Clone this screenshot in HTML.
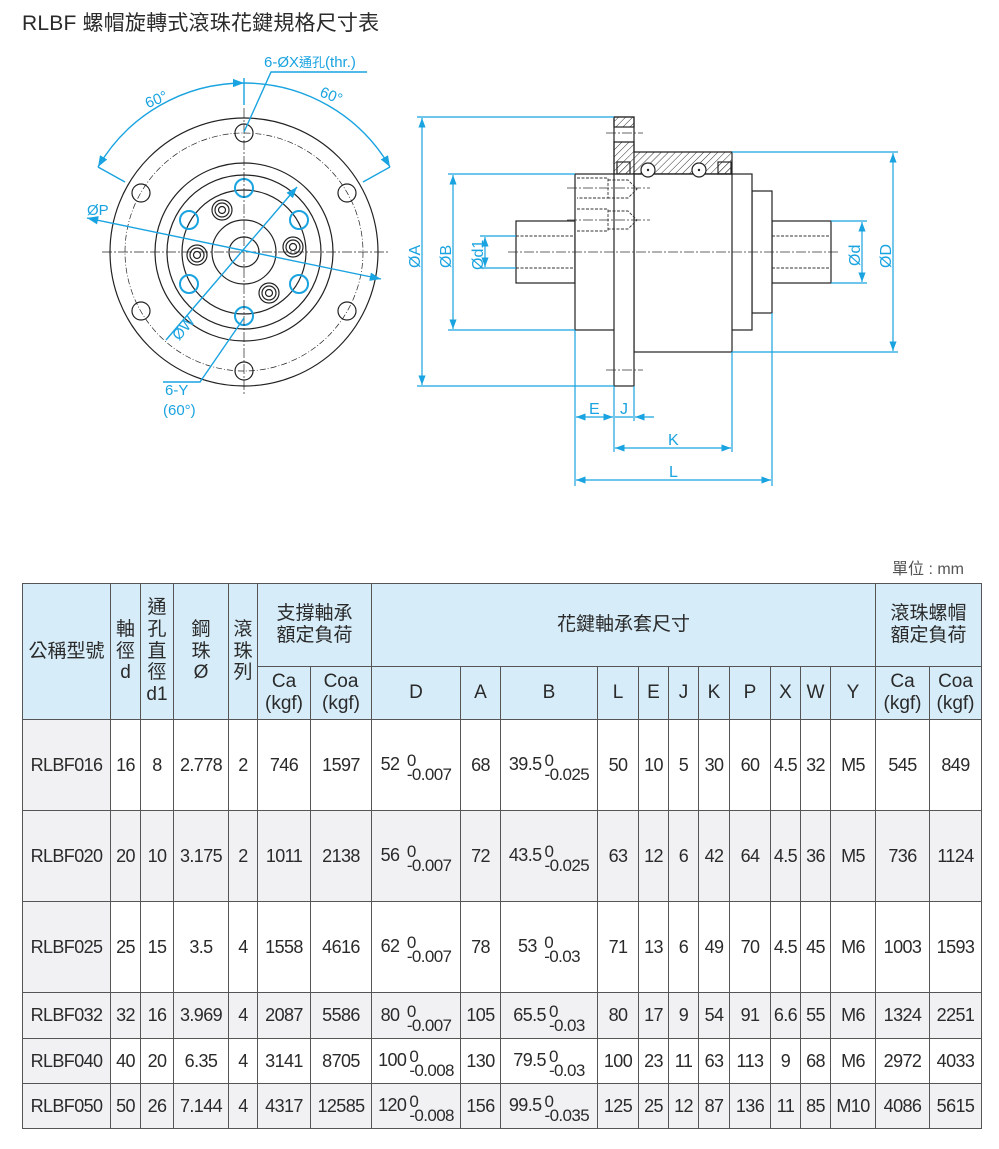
<!DOCTYPE html>
<html><head><meta charset="utf-8">
<style>
body{margin:0;width:999px;height:1149px;background:#fff;position:relative;overflow:hidden;font-family:"Liberation Sans","Noto Sans CJK TC",sans-serif;color:#2a2a2a}
.title{position:absolute;left:22px;top:7px;font-size:21px;letter-spacing:0.2px}
.unit{position:absolute;left:892px;top:555px;font-size:16px;color:#555}
svg{position:absolute;left:0;top:0}
table{position:absolute;left:22px;top:583px;border-collapse:collapse;table-layout:fixed;font-size:18px;letter-spacing:-0.6px}
td{border:1.3px solid #555;text-align:center;padding:0;line-height:1.15;white-space:nowrap}
.h td{background:#d6ecf8;font-size:19px;letter-spacing:0}
td.f{background:#f1f1f3}
tr.g td{background:#f1f1f3}
.t{display:inline-block;vertical-align:middle;text-align:left;font-size:17px;line-height:14px;position:relative;top:3px;margin-left:3px}
</style></head><body>
<div class="title">RLBF 螺帽旋轉式滾珠花鍵規格尺寸表</div>
<svg width="999" height="560" viewBox="0 0 999 560">
<defs>
<pattern id="hh" width="5" height="5" patternUnits="userSpaceOnUse" patternTransform="rotate(45)"><line x1="0" y1="0" x2="0" y2="5" stroke="#333" stroke-width="1"/></pattern>
<marker id="a" markerWidth="8" markerHeight="6" refX="8" refY="3" orient="auto-start-reverse"><path d="M0,0 L8,3 L0,6z" fill="#19a3e0"/></marker>
</defs>
<g fill="none" stroke="#222" stroke-width="1.2">
<circle cx="244" cy="252" r="134"/>
<circle cx="244" cy="252" r="119" stroke-dasharray="6,2,1,2" stroke-width="0.7"/>
<circle cx="244" cy="252" r="89"/>
<circle cx="244" cy="252" r="77"/>
<circle cx="244" cy="252" r="62"/>
<circle cx="244" cy="252" r="32"/>
<circle cx="244" cy="252" r="15"/>
<g><circle cx="244" cy="133" r="9"/><circle cx="347" cy="193" r="9"/><circle cx="347" cy="311" r="9"/><circle cx="244" cy="371" r="9"/><circle cx="141" cy="311" r="9"/><circle cx="141" cy="193" r="9"/></g>
<g stroke="#19a3e0" stroke-width="2"><circle cx="244" cy="188" r="9"/><circle cx="299" cy="220" r="9"/><circle cx="299" cy="284" r="9"/><circle cx="244" cy="316" r="9"/><circle cx="189" cy="284" r="9"/><circle cx="189" cy="220" r="9"/></g>
<g><circle cx="222" cy="210" r="10"/><circle cx="222" cy="210" r="7"/><circle cx="222" cy="210" r="3.5"/>
<circle cx="293" cy="247" r="10"/><circle cx="293" cy="247" r="7"/><circle cx="293" cy="247" r="3.5"/>
<circle cx="197" cy="255" r="10"/><circle cx="197" cy="255" r="7"/><circle cx="197" cy="255" r="3.5"/>
<circle cx="269" cy="293" r="10"/><circle cx="269" cy="293" r="7"/><circle cx="269" cy="293" r="3.5"/></g>
<g stroke-width="0.7" stroke-dasharray="10,2,2,2"><line x1="102" y1="252" x2="388" y2="252"/><line x1="244" y1="108" x2="244" y2="395"/></g>
</g>
<g fill="none" stroke="#19a3e0" stroke-width="1.4">
<path d="M98,167 A169,169 0 0 1 244,83" marker-start="url(#a)" marker-end="url(#a)"/>
<path d="M244,83 A169,169 0 0 1 390,167" marker-end="url(#a)"/>
<line x1="98" y1="167" x2="125" y2="182"/><line x1="390" y1="167" x2="363" y2="182"/><line x1="244" y1="78" x2="244" y2="105"/>
<line x1="87" y1="218" x2="381" y2="279" marker-start="url(#a)" marker-end="url(#a)"/>
<line x1="166" y1="340" x2="297" y2="187" marker-end="url(#a)"/>
<polyline points="244,132 271,72 367,72"/>
<polyline points="244,318 200,382 163,382"/>
</g>
<g fill="#19a3e0" font-size="15" font-family="Liberation Sans,Noto Sans CJK TC,sans-serif">
<text x="264" y="67">6-ØX<tspan font-size="13">通孔</tspan>(thr.)</text>
<text x="145" y="105" transform="rotate(-22 155 100)">60°</text>
<text x="320" y="100" transform="rotate(22 330 95)">60°</text>
<text x="87" y="215">ØP</text>
<text x="170" y="338" transform="rotate(-50 178 330)">ØW</text>
<text x="165" y="395">6-Y</text>
<text x="163" y="415">(60°)</text>
</g>
<g stroke="#222" stroke-width="1.2" fill="#fff">
<rect x="516" y="221" width="59" height="62"/>
<rect x="772" y="221" width="59" height="62"/>
<rect x="752" y="191" width="20" height="122"/>
<rect x="575" y="174" width="177" height="156"/>
<rect x="634" y="174" width="98" height="178"/>
<rect x="614" y="117" width="20" height="269"/>
<rect x="614" y="117" width="20" height="10" fill="url(#hh)"/>
<path d="M614,142 L634,142 L634,152 L732,152 L732,174 L614,174z" fill="url(#hh)"/>
<rect x="617" y="162" width="13" height="12" fill="url(#hh)"/>
<rect x="718" y="162" width="13" height="12" fill="url(#hh)"/>
<circle cx="648" cy="170" r="7"/><circle cx="699" cy="170" r="7"/>
</g>
<g fill="#222"><circle cx="648" cy="170" r="1.2"/><circle cx="699" cy="170" r="1.2"/></g>
<g stroke="#333" stroke-width="0.9" fill="none" stroke-dasharray="3,1.5">
<line x1="516" y1="236" x2="575" y2="236"/><line x1="516" y1="268" x2="575" y2="268"/>
<line x1="772" y1="236" x2="831" y2="236"/><line x1="772" y1="268" x2="831" y2="268"/>
<path d="M577,178 H608 V198 H577 M608,180 H628 L637,189 L628,198 H608"/>
<path d="M577,209 H608 V231 H577 M608,211 H628 L637,220 L628,229 H608"/>
</g>
<g stroke="#333" stroke-width="0.7" stroke-dasharray="10,2,2,2"><line x1="508" y1="252" x2="838" y2="252"/><line x1="606" y1="133" x2="643" y2="133"/><line x1="606" y1="370" x2="643" y2="370"/><line x1="567" y1="188" x2="650" y2="188"/><line x1="567" y1="220" x2="650" y2="220"/></g>
<g stroke="#19a3e0" stroke-width="1.2" fill="none">
<line x1="417" y1="117" x2="614" y2="117"/><line x1="417" y1="386" x2="614" y2="386"/>
<line x1="422" y1="118" x2="422" y2="385" marker-start="url(#a)" marker-end="url(#a)"/>
<line x1="448" y1="174" x2="575" y2="174"/><line x1="448" y1="330" x2="575" y2="330"/>
<line x1="453" y1="175" x2="453" y2="329" marker-start="url(#a)" marker-end="url(#a)"/>
<line x1="480" y1="236" x2="516" y2="236"/><line x1="480" y1="268" x2="516" y2="268"/>
<line x1="485" y1="237" x2="485" y2="267" marker-start="url(#a)" marker-end="url(#a)"/>
<line x1="831" y1="221" x2="867" y2="221"/><line x1="831" y1="283" x2="867" y2="283"/>
<line x1="862" y1="222" x2="862" y2="282" marker-start="url(#a)" marker-end="url(#a)"/>
<line x1="732" y1="152" x2="898" y2="152"/><line x1="732" y1="352" x2="898" y2="352"/>
<line x1="893" y1="153" x2="893" y2="351" marker-start="url(#a)" marker-end="url(#a)"/>
<line x1="575" y1="330" x2="575" y2="486"/><line x1="614" y1="386" x2="614" y2="452"/>
<line x1="634" y1="386" x2="634" y2="421"/><line x1="732" y1="352" x2="732" y2="452"/>
<line x1="772" y1="313" x2="772" y2="486"/>
<line x1="576" y1="417" x2="613" y2="417" marker-start="url(#a)" marker-end="url(#a)"/>
<line x1="615" y1="417" x2="633" y2="417"/>
<line x1="654" y1="417" x2="635" y2="417" marker-end="url(#a)"/>
<line x1="615" y1="448" x2="731" y2="448" marker-start="url(#a)" marker-end="url(#a)"/>
<line x1="576" y1="480" x2="771" y2="480" marker-start="url(#a)" marker-end="url(#a)"/>
</g>
<g fill="#19a3e0" font-size="16" font-family="Liberation Sans,sans-serif">
<text x="589" y="414">E</text><text x="620" y="414">J</text><text x="668" y="445">K</text><text x="669" y="477">L</text>
<text transform="translate(420,268) rotate(-90)">ØA</text>
<text transform="translate(451,268) rotate(-90)">ØB</text>
<text transform="translate(483,270) rotate(-90)">Ød1</text>
<text transform="translate(860,266) rotate(-90)">Ød</text>
<text transform="translate(891,268) rotate(-90)">ØD</text>
</g>
</svg>
<div class="unit">單位 : mm</div>
<table>
<colgroup><col style="width:88px"><col style="width:30px"><col style="width:33px"><col style="width:55px"><col style="width:29px"><col style="width:53px"><col style="width:61px"><col style="width:89px"><col style="width:40px"><col style="width:97px"><col style="width:41px"><col style="width:30px"><col style="width:30px"><col style="width:31px"><col style="width:41px"><col style="width:30px"><col style="width:30px"><col style="width:45px"><col style="width:54px"><col style="width:52px"></colgroup>
<tr class="h" style="height:83px"><td rowspan="2">公稱型號</td><td rowspan="2">軸<br>徑<br>d</td><td rowspan="2">通<br>孔<br>直<br>徑<br>d1</td><td rowspan="2">鋼<br>珠<br>Ø</td><td rowspan="2">滾<br>珠<br>列</td><td colspan="2">支撐軸承<br>額定負荷</td><td colspan="11">花鍵軸承套尺寸</td><td colspan="2">滾珠螺帽<br>額定負荷</td></tr>
<tr class="h" style="height:53px"><td>Ca<br>(kgf)</td><td>Coa<br>(kgf)</td><td>D</td><td>A</td><td>B</td><td>L</td><td>E</td><td>J</td><td>K</td><td>P</td><td>X</td><td>W</td><td>Y</td><td>Ca<br>(kgf)</td><td>Coa<br>(kgf)</td></tr>
<tr style="height:91px"><td class="f">RLBF016</td><td>16</td><td>8</td><td>2.778</td><td>2</td><td>746</td><td>1597</td><td>52 <span class="t">0<br>-0.007</span></td><td>68</td><td>39.5<span class="t">0<br>-0.025</span></td><td>50</td><td>10</td><td>5</td><td>30</td><td>60</td><td>4.5</td><td>32</td><td>M5</td><td>545</td><td>849</td></tr>
<tr class="g" style="height:91px"><td>RLBF020</td><td>20</td><td>10</td><td>3.175</td><td>2</td><td>1011</td><td>2138</td><td>56 <span class="t">0<br>-0.007</span></td><td>72</td><td>43.5<span class="t">0<br>-0.025</span></td><td>63</td><td>12</td><td>6</td><td>42</td><td>64</td><td>4.5</td><td>36</td><td>M5</td><td>736</td><td>1124</td></tr>
<tr style="height:91px"><td class="f">RLBF025</td><td>25</td><td>15</td><td>3.5</td><td>4</td><td>1558</td><td>4616</td><td>62 <span class="t">0<br>-0.007</span></td><td>78</td><td>53 <span class="t">0<br>-0.03</span></td><td>71</td><td>13</td><td>6</td><td>49</td><td>70</td><td>4.5</td><td>45</td><td>M6</td><td>1003</td><td>1593</td></tr>
<tr class="g" style="height:46px"><td>RLBF032</td><td>32</td><td>16</td><td>3.969</td><td>4</td><td>2087</td><td>5586</td><td>80 <span class="t">0<br>-0.007</span></td><td>105</td><td>65.5<span class="t">0<br>-0.03</span></td><td>80</td><td>17</td><td>9</td><td>54</td><td>91</td><td>6.6</td><td>55</td><td>M6</td><td>1324</td><td>2251</td></tr>
<tr style="height:45px"><td class="f">RLBF040</td><td>40</td><td>20</td><td>6.35</td><td>4</td><td>3141</td><td>8705</td><td>100<span class="t">0<br>-0.008</span></td><td>130</td><td>79.5<span class="t">0<br>-0.03</span></td><td>100</td><td>23</td><td>11</td><td>63</td><td>113</td><td>9</td><td>68</td><td>M6</td><td>2972</td><td>4033</td></tr>
<tr class="g" style="height:45px"><td>RLBF050</td><td>50</td><td>26</td><td>7.144</td><td>4</td><td>4317</td><td>12585</td><td>120<span class="t">0<br>-0.008</span></td><td>156</td><td>99.5<span class="t">0<br>-0.035</span></td><td>125</td><td>25</td><td>12</td><td>87</td><td>136</td><td>11</td><td>85</td><td>M10</td><td>4086</td><td>5615</td></tr>
</table>
</body></html>
